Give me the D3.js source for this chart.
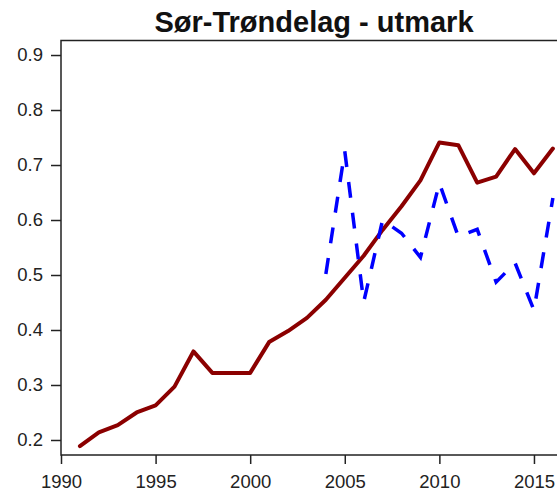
<!DOCTYPE html>
<html>
<head>
<meta charset="utf-8">
<script src="https://cdn.jsdelivr.net/npm/d3@7"></script>
<style>
  body { margin: 0; background: #fff; }
  svg { display: block; font-family: 'Liberation Sans', Arial, sans-serif; }
</style>
</head>
<body>
<script>
var years = [1991, 1992, 1993, 1994, 1995, 1996, 1997, 1998, 1999, 2000, 2001, 2002, 2003,
             2004, 2005, 2006, 2007, 2008, 2009, 2010, 2011, 2012, 2013, 2014, 2015, 2016];
var trendValues = [0.189, 0.214, 0.227, 0.25, 0.263, 0.297, 0.361, 0.322, 0.322, 0.322, 0.378, 0.398, 0.422,
                   0.455, 0.495, 0.535, 0.582, 0.625, 0.672, 0.741, 0.736, 0.668, 0.679, 0.729, 0.685, 0.73];

var surveyYears = [2004, 2005, 2006, 2007, 2008, 2009, 2010, 2011, 2012, 2013, 2014, 2015, 2016];
var surveyValues = [0.502, 0.725, 0.451, 0.6, 0.576, 0.532, 0.667, 0.57, 0.583, 0.487, 0.522, 0.436, 0.64];

var xTicks = [1990, 1995, 2000, 2005, 2010, 2015];
var yTicks = [0.2, 0.3, 0.4, 0.5, 0.6, 0.7, 0.8, 0.9];

var titleText = 'Sør-Trøndelag - utmark';

var w = 557,
    h = 492;

var svg = d3.select('body').append('svg')
  .attr('width', w)
  .attr('height', h);

// plot region runs past the right edge, as in the original
var x = d3.scaleLinear().domain([1990, 2017]).range([61, 571.8]);
var y = d3.scaleLinear().domain([0.1727, 0.9264]).range([455, 40.5]);

svg.append('rect')
  .attr('x', x.range()[0])
  .attr('y', y.range()[1])
  .attr('width', x.range()[1] - x.range()[0])
  .attr('height', y.range()[0] - y.range()[1])
  .attr('fill', 'none')
  .attr('stroke', '#222')
  .attr('stroke-width', 1.5);

var xAxis = svg.append('g')
  .attr('transform', translation(0, y.range()[0]))
  .call(d3.axisBottom(x).tickValues(xTicks).tickFormat(d3.format('d')).tickSize(9).tickPadding(11));

var yAxis = svg.append('g')
  .attr('transform', translation(x.range()[0], 0))
  .call(d3.axisLeft(y).tickValues(yTicks).tickFormat(d3.format('.1f')).tickSize(10).tickPadding(8));

[xAxis, yAxis].forEach(function(a) {
  a.select('.domain').remove();
  a.selectAll('line').attr('stroke', '#222').attr('stroke-width', 1.5);
  a.selectAll('text')
    .attr('fill', '#222')
    .style('font-size', '18.5px')
    .style('font-family', "'Liberation Sans', Arial, sans-serif");
});

var line = d3.line()
  .x(function(d) { return x(d[0]); })
  .y(function(d) { return y(d[1]); });

svg.append('path')
  .datum(d3.zip(years, trendValues))
  .attr('d', line)
  .attr('fill', 'none')
  .attr('stroke', '#8b0000')
  .attr('stroke-width', 4)
  .attr('stroke-linejoin', 'round')
  .attr('stroke-linecap', 'round');

svg.append('path')
  .datum(d3.zip(surveyYears, surveyValues))
  .attr('d', line)
  .attr('fill', 'none')
  .attr('stroke', '#0000ff')
  .attr('stroke-width', 3.5)
  .attr('stroke-dasharray', '16,15');

svg.append('text')
  .attr('x', 314)
  .attr('y', 32)
  .attr('text-anchor', 'middle')
  .style('font-size', '29px')
  .style('font-weight', 'bold')
  .attr('fill', '#111')
  .text(titleText);

function translation(x, y) {
  return 'translate(' + x + ',' + y + ')';
}
</script>
</body>
</html>
